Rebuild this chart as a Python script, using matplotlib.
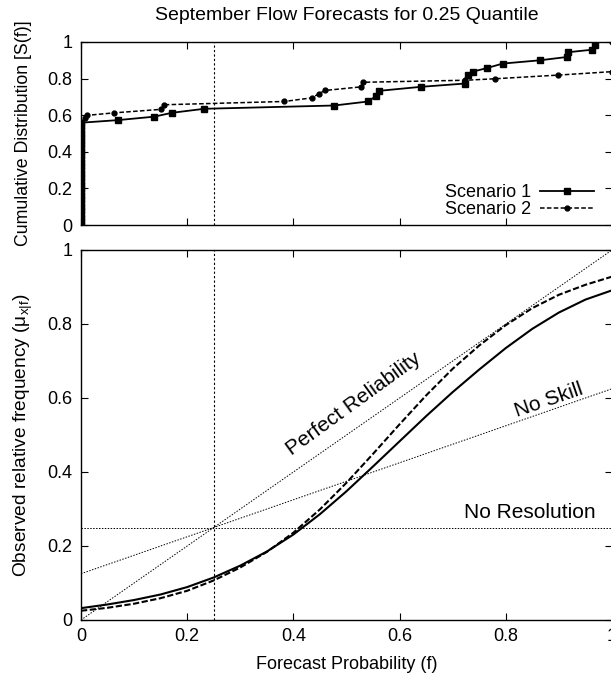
import matplotlib
matplotlib.use("Agg")
import matplotlib.pyplot as plt
from matplotlib.ticker import FuncFormatter

plt.rcParams['font.family'] = ['Liberation Sans', 'DejaVu Sans']
plt.rcParams['mathtext.fontset'] = 'custom'
plt.rcParams['mathtext.rm'] = 'Liberation Sans'
plt.rcParams['mathtext.it'] = 'Liberation Sans'

# ---------------- data ----------------
title = "September Flow Forecasts for 0.25 Quantile"
quantile = 0.25

# top panel: cumulative distribution of forecasts
s1_f = [0, 0, 0, 0, 0, 0, 0, 0, 0, 0, 0, 0, 0, 0, 0, 0, 0, 0, 0, 0, 0, 0, 0, 0, 0, 0, 0, 0, 0,
        0.069, 0.138, 0.171, 0.232, 0.477, 0.541, 0.555, 0.561, 0.64, 0.723, 0.728, 0.738,
        0.765, 0.794, 0.864, 0.915, 0.917, 0.963, 0.968]
s1_cdf = [0.0, 0.02, 0.04, 0.06, 0.08, 0.10, 0.12, 0.14, 0.16, 0.18, 0.20, 0.22, 0.24, 0.26,
          0.28, 0.30, 0.32, 0.34, 0.36, 0.38, 0.40, 0.42, 0.44, 0.46, 0.48, 0.50, 0.52, 0.54, 0.559,
          0.573, 0.592, 0.613, 0.635, 0.653, 0.675, 0.704, 0.733, 0.755, 0.773, 0.818, 0.838,
          0.858, 0.882, 0.900, 0.918, 0.944, 0.958, 0.985]
s2_f = [0, 0, 0, 0, 0, 0, 0, 0, 0, 0, 0, 0, 0, 0, 0, 0, 0, 0, 0, 0, 0, 0, 0, 0, 0, 0, 0, 0, 0,
        0.008, 0.011, 0.063, 0.151, 0.156, 0.383, 0.435, 0.448, 0.459, 0.528, 0.532, 0.724,
        0.779, 0.898, 1.0, 1.0]
s2_cdf = [0.0, 0.02, 0.04, 0.06, 0.08, 0.10, 0.12, 0.14, 0.16, 0.18, 0.20, 0.22, 0.24, 0.26,
          0.28, 0.30, 0.32, 0.34, 0.36, 0.38, 0.40, 0.42, 0.44, 0.46, 0.48, 0.50, 0.52, 0.54, 0.56,
          0.586, 0.599, 0.613, 0.632, 0.657, 0.675, 0.695, 0.717, 0.735, 0.755, 0.780, 0.791,
          0.799, 0.819, 0.838, 1.0]

# bottom panel: reliability curves
f_grid = [0.0, 0.05, 0.1, 0.15, 0.2, 0.25, 0.3, 0.35, 0.4, 0.45, 0.5, 0.55, 0.6, 0.65,
          0.7, 0.75, 0.8, 0.85, 0.9, 0.95, 1.0]
rel_s1 = [0.032, 0.042, 0.054, 0.069, 0.089, 0.115, 0.147, 0.185, 0.231, 0.286, 0.348, 0.415,
          0.483, 0.551, 0.616, 0.677, 0.735, 0.787, 0.831, 0.866, 0.891]
rel_s2 = [0.025, 0.033, 0.044, 0.059, 0.079, 0.107, 0.142, 0.184, 0.236, 0.299, 0.371, 0.449,
          0.529, 0.607, 0.679, 0.742, 0.797, 0.843, 0.879, 0.906, 0.928]

ref_x = [0.0, 1.0]
perfect_y = [0.0, 1.0]
noskill_y = [0.125, 0.625]
nores_y = [0.25, 0.25]

ticks = [0, 0.2, 0.4, 0.6, 0.8, 1.0]

# ---------------- figure ----------------
fig = plt.figure(figsize=(6.11, 6.78), dpi=100)
W, H = 611, 678
left = 81 / W
width = 531 / W
ax1 = fig.add_axes([left, (H - 225) / H, width, 183 / H])
ax2 = fig.add_axes([left, (H - 620) / H, width, 370 / H])

fmt = FuncFormatter(lambda v, p: '0' if abs(v) < 1e-9 else ('1' if abs(v - 1) < 1e-9 else f'{v:.1f}'))

for ax in (ax1, ax2):
    ax.set_xlim(0, 1)
    ax.set_ylim(0, 1)
    ax.set_xticks(ticks)
    ax.set_yticks(ticks)
    ax.yaxis.set_major_formatter(fmt)
    ax.xaxis.set_major_formatter(fmt)
    ax.tick_params(direction='in', top=True, right=True, length=5, width=0.8,
                   labelsize=13, colors='black', pad=6)
    for sp in ax.spines.values():
        sp.set_linewidth(1.0)
    ax.axvline(quantile, color='black', lw=0.8, ls=(0, (2, 2)))

ax1.tick_params(labelbottom=False)

# top panel
ax1.plot(s1_f, s1_cdf, color='black', lw=1.3, marker='s', ms=4.5, label='Scenario 1')
ax1.plot(s2_f, s2_cdf, color='black', lw=1.1, ls=(0, (3, 1.5)), marker='o', ms=3.5,
         label='Scenario 2')
ax1.set_ylabel('Cumulative Distribution [S(f)]', fontsize=12.8, labelpad=11)
fig.text((81 + 612) / 2 / W, (H - 16) / H, title, fontsize=14, ha='center', va='center')
leg = ax1.legend(loc='lower right', frameon=False, markerfirst=False, fontsize=13,
                 handlelength=3.0, handletextpad=0.5, borderaxespad=0.3, labelspacing=0.0,
                 bbox_to_anchor=(0.99, -0.03))

# bottom panel
ax2.plot(ref_x, perfect_y, color='black', lw=0.7, ls=(0, (1.5, 1.5)))
ax2.plot(ref_x, noskill_y, color='black', lw=0.7, ls=(0, (1.5, 1.5)))
ax2.plot(ref_x, nores_y, color='black', lw=0.7, ls=(0, (1.5, 1.5)))
ax2.plot(f_grid, rel_s1, color='black', lw=1.5, solid_joinstyle='round')
ax2.plot(f_grid, rel_s2, color='black', lw=1.5, ls=(0, (3, 1.2)))

ax2.text(0.514, 0.584, 'Perfect Reliability', rotation=36, fontsize=15,
         ha='center', va='center', rotation_mode='anchor')
ax2.text(0.881, 0.595, 'No Skill', rotation=19, fontsize=15,
         ha='center', va='center', rotation_mode='anchor')
ax2.text(0.845, 0.29, 'No Resolution', fontsize=15, ha='center', va='center')

ax2.set_xlabel('Forecast Probability (f)', fontsize=13, labelpad=8)
ax2.set_ylabel('Observed relative frequency (μ$_{\\mathrm{x|f}}$)', fontsize=13.8, labelpad=9)

fig.savefig('out.png', dpi=100)
